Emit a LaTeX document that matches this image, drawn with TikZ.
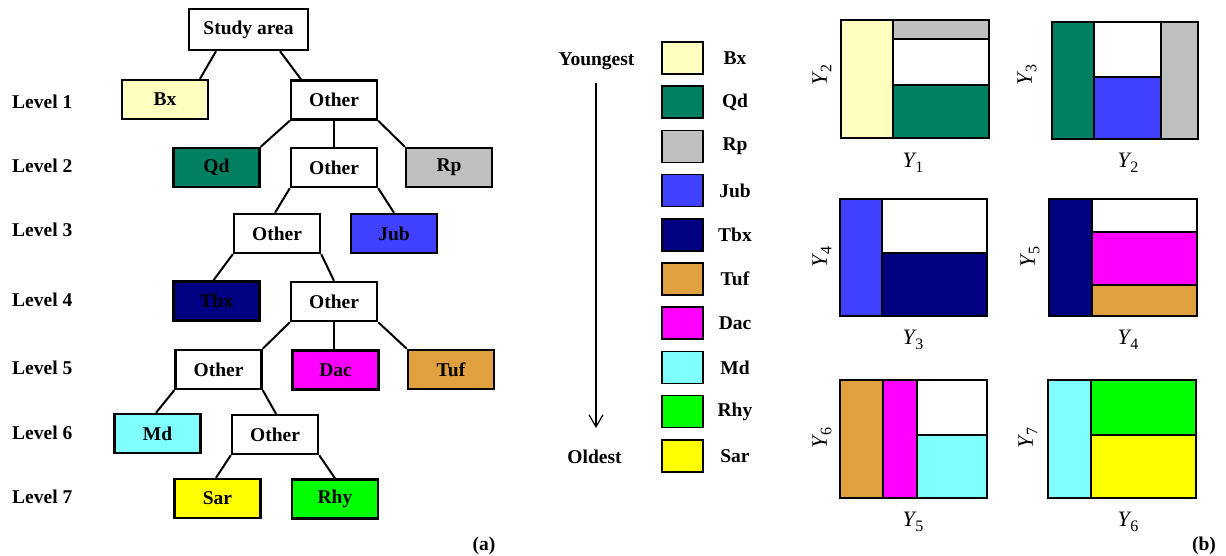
\documentclass[tikz,border=0pt]{standalone}
\usepackage{fontspec}
\setmainfont{Liberation Serif}
\usetikzlibrary{arrows.meta}

\definecolor{cBx}{RGB}{255,255,192}
\definecolor{cQd}{RGB}{0,128,96}
\definecolor{cRp}{RGB}{192,192,192}
\definecolor{cJub}{RGB}{64,64,255}
\definecolor{cTbx}{RGB}{0,0,128}
\definecolor{cTuf}{RGB}{224,160,64}
\definecolor{cDac}{RGB}{255,0,255}
\definecolor{cMd}{RGB}{128,255,255}
\definecolor{cRhy}{RGB}{0,255,0}
\definecolor{cSar}{RGB}{255,255,0}

\tikzset{
  bfont/.style={font=\fontsize{19.5}{22}\selectfont\bfseries},
  tbox/.style={draw, line width=2.4pt, minimum width=86pt, minimum height=39pt,
               inner sep=0pt, bfont},
  link/.style={line width=2pt},
  levtxt/.style={bfont, anchor=west, inner sep=0pt},
  legbox/.style={draw, line width=1.6pt, minimum width=41pt, minimum height=32pt, inner sep=0pt},
  legtxt/.style={bfont, inner sep=0pt},
  ylab/.style={font=\fontsize{22}{24}\selectfont, inner sep=0pt},
  panel/.style={line width=1.8pt},
}
\newcommand{\yvar}[1]{\textit{Y}\kern-1.5pt\raisebox{-0.45ex}{\fontsize{16}{17}\selectfont #1}}

\begin{document}
\begin{tikzpicture}[x=1pt,y=-1pt]
\useasboundingbox (0,0) rectangle (1226,556);
\fill[white] (0,0) rectangle (1226,556);

% ---------- (a) decision tree ----------
\node[tbox, minimum width=119pt, minimum height=41pt] (sa) at (248.5,29.5) {Study area};
\node[tbox, fill=cBx]  (bx)  at (165,99.5)   {Bx};
\node[tbox]            (o1)  at (334,100)    {Other};
\node[tbox, fill=cQd]  (qd)  at (216.5,167.5){Qd};
\node[tbox]            (o2)  at (334,167.5)  {Other};
\node[tbox, fill=cRp]  (rp)  at (449,167.5)  {Rp};
\node[tbox]            (o3)  at (277,233.5)  {Other};
\node[tbox, fill=cJub] (jub) at (394,233.5)  {Jub};
\node[tbox, fill=cTbx] (tbx) at (216.5,301)  {Tbx};
\node[tbox]            (o4)  at (334,301.5)  {Other};
\node[tbox]            (o5)  at (218.5,369.5){Other};
\node[tbox, fill=cDac] (dac) at (335.5,370)  {Dac};
\node[tbox, fill=cTuf] (tuf) at (451,369.5)  {Tuf};
\node[tbox, fill=cMd]  (md)  at (157.5,433.5){Md};
\node[tbox]            (o6)  at (275,434.5)  {Other};
\node[tbox, fill=cSar] (sar) at (217.5,498.5){Sar};
\node[tbox, fill=cRhy] (rhy) at (335,499)    {Rhy};

\draw[link] ([xshift=-32.5pt]sa.south) -- ([xshift=35pt]bx.north);
\draw[link] ([xshift=31.5pt]sa.south) -- ([xshift=-33pt]o1.north);
\draw[link] (o1.south west) -- (qd.north east);
\draw[link] (o1.south) -- (o2.north);
\draw[link] (o1.south east) -- (rp.north west);
\draw[link] (o2.south west) -- ([xshift=-2pt]o3.north);
\draw[link] (o2.south east) -- (jub.north);
\draw[link] (o3.south west) -- ([xshift=-3pt]tbx.north);
\draw[link] (o3.south east) -- (o4.north);
\draw[link] (o4.south west) -- (o5.north east);
\draw[link] (o4.south) -- (o4.south |- dac.north);
\draw[link] (o4.south east) -- (tuf.north west);
\draw[link] (o5.south west) -- ([xshift=-1.5pt]md.north);
\draw[link] (o5.south east) -- ([xshift=1pt]o6.north);
\draw[link] (o6.south west) -- ([xshift=-1.5pt]sar.north);
\draw[link] (o6.south east) -- (rhy.north);

\node[levtxt] (l1) at (12,102) {Level 1};
\node[levtxt] (l2) at (12,166) {Level 2};
\node[levtxt] (l3) at (12,230) {Level 3};
\node[levtxt] (l4) at (12,300) {Level 4};
\node[levtxt] (l5) at (12,368) {Level 5};
\node[levtxt] (l6) at (12,433) {Level 6};
\node[levtxt] (l7) at (12,497) {Level 7};

\node[bfont, inner sep=0pt] (la) at (484,546) {(a)};

% ---------- legend ----------
\node[legtxt] (young) at (596.5,61) {Youngest};
\node[legtxt] (old)   at (594.5,457) {Oldest};
\coordinate (atop) at (596,83);
\coordinate (abot) at (596,428);
\draw[line width=1.2pt, -{Straight Barb[length=12pt,width=14pt,line width=1.2pt]}] (atop) -- (abot);

\foreach \c/\t [count=\i from 0] in {cBx/Bx, cQd/Qd, cRp/Rp, cJub/Jub, cTbx/Tbx,
                                     cTuf/Tuf, cDac/Dac, cMd/Md, cRhy/Rhy, cSar/Sar}{
  \node[legbox, fill=\c] (lb\i) at (682.5,58+44.2*\i) {};
  \node[legtxt] (lt\i) at (735,58+44.2*\i) {\t};
}

% ---------- (b) feature-space partitions ----------
% Y1 vs Y2
\fill[cBx] (841,20) rectangle (893,138);
\fill[cRp] (893,20) rectangle (989,39);
\fill[cQd] (893,85) rectangle (989,138);
\draw[panel] (893,20) -- (893,138) (893,39) -- (989,39) (893,85) -- (989,85);
\draw[panel] (841,20) rectangle (989,138);
\node[ylab, rotate=90] (p1y) at (822,75) {\yvar{2}};
\node[ylab] (p1x) at (913,163) {\yvar{1}};

% Y2 vs Y3
\fill[cQd]  (1052,22) rectangle (1094,139);
\fill[cJub] (1094,77) rectangle (1161,139);
\fill[cRp]  (1161,22) rectangle (1198,139);
\draw[panel] (1094,22) -- (1094,139) (1161,22) -- (1161,139) (1094,77) -- (1161,77);
\draw[panel] (1052,22) rectangle (1198,139);
\node[ylab, rotate=90] (p2y) at (1027,75) {\yvar{3}};
\node[ylab] (p2x) at (1128,163) {\yvar{2}};

% Y3 vs Y4
\fill[cJub] (840,199) rectangle (882,316);
\fill[cTbx] (882,253) rectangle (987,316);
\draw[panel] (882,199) -- (882,316) (882,253) -- (987,253);
\draw[panel] (840,199) rectangle (987,316);
\node[ylab, rotate=90] (p3y) at (822,257) {\yvar{4}};
\node[ylab] (p3x) at (913,340) {\yvar{3}};

% Y4 vs Y5
\fill[cTbx] (1049,199) rectangle (1092,316);
\fill[cDac] (1092,232) rectangle (1197,285);
\fill[cTuf] (1092,285) rectangle (1197,316);
\draw[panel] (1092,199) -- (1092,316) (1092,232) -- (1197,232) (1092,285) -- (1197,285);
\draw[panel] (1049,199) rectangle (1197,316);
\node[ylab, rotate=90] (p4y) at (1030,257) {\yvar{5}};
\node[ylab] (p4x) at (1128,340) {\yvar{4}};

% Y5 vs Y6
\fill[cTuf] (840,380) rectangle (883,498);
\fill[cDac] (883,380) rectangle (917,498);
\fill[cMd]  (917,435) rectangle (987,498);
\draw[panel] (883,380) -- (883,498) (917,380) -- (917,498) (917,435) -- (987,435);
\draw[panel] (840,380) rectangle (987,498);
\node[ylab, rotate=90] (p5y) at (822,438) {\yvar{6}};
\node[ylab] (p5x) at (913,522) {\yvar{5}};

% Y6 vs Y7
\fill[cMd]  (1048,380) rectangle (1091,498);
\fill[cRhy] (1091,380) rectangle (1196,435);
\fill[cSar] (1091,435) rectangle (1196,498);
\draw[panel] (1091,380) -- (1091,498) (1091,435) -- (1196,435);
\draw[panel] (1048,380) rectangle (1196,498);
\node[ylab, rotate=90] (p6y) at (1028,438) {\yvar{7}};
\node[ylab] (p6x) at (1128,522) {\yvar{6}};

\node[bfont, inner sep=0pt] (lbb) at (1204,546) {(b)};
\end{tikzpicture}
\end{document}
